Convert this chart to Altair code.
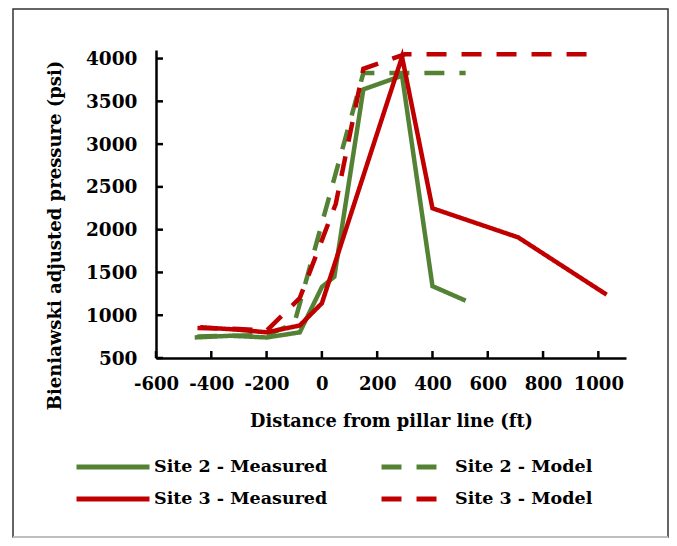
import altair as alt
import pandas as pd

# legend fills column by column: column 1 = measured, column 2 = model
series_names = ["Site 2 - Measured", "Site 3 - Measured", "Site 2 - Model", "Site 3 - Model"]
line_colors = ["#548235", "#C00000", "#548235", "#C00000"]
dash_styles = [[1, 0], [1, 0], [20, 15], [20, 15]]

s2_meas_x = [-460, -330, -200, -80, 0, 45, 150, 290, 400, 520]
s2_meas_y = [740, 760, 740, 800, 1330, 1450, 3640, 3800, 1340, 1170]
s2_model_x = [-450, -200, -100, 150, 300, 520]
s2_model_y = [750, 770, 900, 3830, 3830, 3830]
s3_meas_x = [-440, -300, -200, -80, 0, 290, 400, 710, 1030]
s3_meas_y = [860, 830, 800, 880, 1140, 4020, 2250, 1910, 1240]
s3_model_x = [-450, -300, -200, -80, 50, 150, 300, 1000]
s3_model_y = [850, 840, 820, 1200, 2300, 3880, 4050, 4050]

x_ticks = [-600, -400, -200, 0, 200, 400, 600, 800, 1000]
y_ticks = [500, 1000, 1500, 2000, 2500, 3000, 3500, 4000]

rows = []
for name, xs, ys in [
    ("Site 2 - Measured", s2_meas_x, s2_meas_y),
    ("Site 2 - Model", s2_model_x, s2_model_y),
    ("Site 3 - Measured", s3_meas_x, s3_meas_y),
    ("Site 3 - Model", s3_model_x, s3_model_y),
]:
    for a, b in zip(xs, ys):
        rows.append({"x": a, "y": b, "series": name})
df = pd.DataFrame(rows)

FONT = "DejaVu Serif"
xscale = alt.Scale(domain=[-600, 1100], nice=False, zero=False)
yscale = alt.Scale(domain=[500, 4100], nice=False, zero=False)

legend = alt.Legend(
    title=None, orient="none", legendX=-82, legendY=401, columns=2,
    symbolType="stroke", symbolSize=5329, symbolStrokeWidth=5, clipHeight=32,
    labelOffset=2, columnPadding=47, rowPadding=0, padding=0,
    labelFont=FONT, labelFontSize=17.5, labelFontWeight="bold", labelColor="black",
    labelLimit=400, symbolDashOffset=31,
)

x_axis = alt.Axis(
    values=x_ticks, ticks=False, domainColor="black", domainWidth=2.5,
    labelFont=FONT, labelFontSize=18, labelFontWeight="bold", labelColor="black",
    labelPadding=17, labelFlush=False, labelOverlap=False, labelExpr="'' + datum.value",
    title="Distance from pillar line (ft)", titleFont=FONT, titleFontSize=17.75,
    titleFontWeight="bold", titleColor="black", titlePadding=19,
)
y_axis = alt.Axis(
    values=y_ticks, ticks=False, domainColor="black", domainWidth=2.5,
    labelFont=FONT, labelFontSize=18.5, labelFontWeight="bold", labelColor="black",
    labelPadding=19, labelFlush=False, labelOverlap=False, labelExpr="'' + datum.value",
    title="Bieniawski adjusted pressure (psi)", titleFont=FONT, titleFontSize=18,
    titleFontWeight="bold", titleColor="black", titlePadding=21, titleY=185,
)

lines = alt.Chart(df).mark_line(strokeWidth=4.5).encode(
    x=alt.X("x:Q", scale=xscale, axis=x_axis),
    y=alt.Y("y:Q", scale=yscale, axis=y_axis),
    color=alt.Color("series:N", scale=alt.Scale(domain=series_names, range=line_colors), legend=legend),
    strokeDash=alt.StrokeDash("series:N", scale=alt.Scale(domain=series_names, range=dash_styles), legend=legend),
)

ytick_df = pd.DataFrame({"x": [x_ticks[0]] * len(y_ticks), "y": y_ticks})
xtick_df = pd.DataFrame({"x": x_ticks, "y": [y_ticks[0]] * len(x_ticks)})

yticks = alt.Chart(ytick_df).mark_rule(color="black", strokeWidth=2.5).encode(
    x="x:Q", x2=alt.value(7), y="y:Q"
)
xticks = alt.Chart(xtick_df).mark_rule(color="black", strokeWidth=2.5).encode(
    x="x:Q", y="y:Q", y2=alt.value(301)
)

frame_df = pd.DataFrame({"a": [0]})
frame = alt.Chart(frame_df).mark_rect(fillOpacity=0, stroke="#333333", strokeWidth=1.5).encode(
    x=alt.value(-143), x2=alt.value(512), y=alt.value(-41), y2=alt.value(487)
)
frame_bottom = alt.Chart(frame_df).mark_rule(color="#dddddd", strokeWidth=1.5).encode(
    x=alt.value(-143), x2=alt.value(512), y=alt.value(487)
)

chart = alt.layer(frame, frame_bottom, lines, yticks, xticks).properties(
    width=470, height=308,
    autosize=alt.AutoSizeParams(type="none"),
    padding={"left": 148, "top": 42, "right": 43, "bottom": 180},
).configure_view(stroke=None).configure_axis(grid=False)

chart.save("out.html", embed_options={"renderer": "svg", "actions": False})
